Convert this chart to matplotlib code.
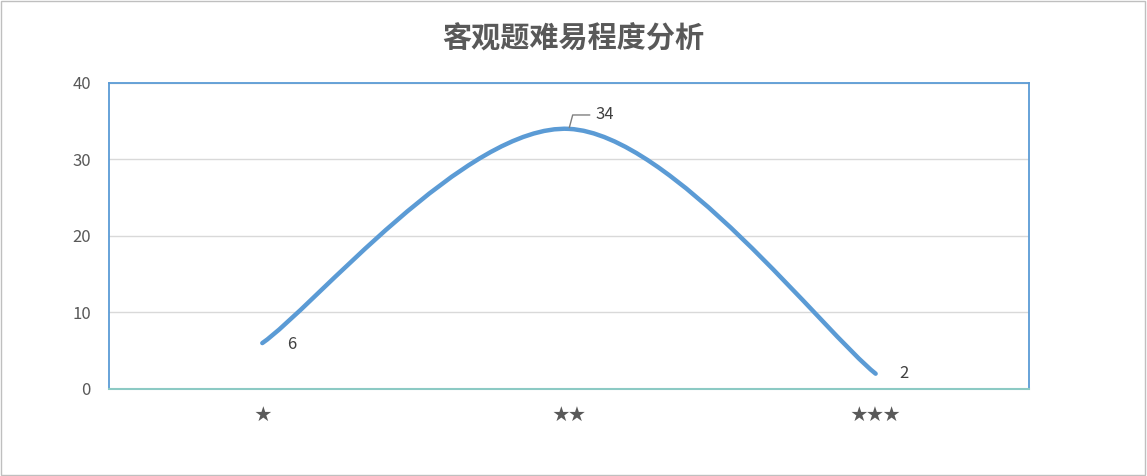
import matplotlib
matplotlib.use("Agg")

import matplotlib.pyplot as plt
from matplotlib.path import Path
from matplotlib.patches import PathPatch, Rectangle

plt.rcParams["font.family"] = ["Noto Sans CJK SC", "DejaVu Sans"]

title = "客观题难易程度分析"
categories = ["★", "★★", "★★★"]
values = [6, 34, 2]
y_ticks = [0, 10, 20, 30, 40]

line_color = "#5b9bd5"
text_color = "#595959"

fig = plt.figure(figsize=(11.47, 4.76), dpi=100)
ax = fig.add_axes([0.0950, 0.1828, 0.8021, 0.6429])

# smoothed line (Excel style cubic bezier through the points)
x = list(range(len(values)))
pts = list(zip(x, values))
verts = [pts[0]]
codes = [Path.MOVETO]
n = len(pts)
for i in range(n - 1):
    p_prev = pts[i - 1] if i > 0 else pts[i]
    p0 = pts[i]
    p1 = pts[i + 1]
    p_next = pts[i + 2] if i + 2 < n else pts[i + 1]
    c1 = (p0[0] + (p1[0] - p_prev[0]) / 6, p0[1] + (p1[1] - p_prev[1]) / 6)
    c2 = (p1[0] - (p_next[0] - p0[0]) / 6, p1[1] - (p_next[1] - p0[1]) / 6)
    verts += [c1, c2, p1]
    codes += [Path.CURVE4] * 3
ax.add_patch(PathPatch(Path(verts, codes), facecolor="none", edgecolor=line_color,
                       lw=3.2, capstyle="round", zorder=3))

ax.set_xlim(-0.5, len(values) - 0.5)
ax.set_ylim(0, 40)
ax.set_yticks(y_ticks)
ax.set_xticks(x)
ax.set_xticklabels(categories)
ax.grid(True, axis="y", color="#d9d9d9", lw=1)
ax.set_axisbelow(True)
ax.tick_params(axis="both", length=0, colors=text_color, labelsize=12)
ax.tick_params(axis="x", pad=13, labelsize=12)
ax.tick_params(axis="y", pad=13)

for side in ["left", "top", "right"]:
    ax.spines[side].set_color(line_color)
    ax.spines[side].set_linewidth(1.3)
ax.spines["bottom"].set_color("#8ccac4")
ax.spines["bottom"].set_linewidth(1.5)

# data labels
ax.annotate(str(values[0]), (x[0], values[0]), xytext=(18, -1), textcoords="offset points",
            ha="left", va="center", fontsize=12, color="#404040")
ax.annotate(str(values[2]), (x[2], values[2]), xytext=(17, 0), textcoords="offset points",
            ha="left", va="center", fontsize=12, color="#404040")
ax.annotate(str(values[1]), (x[1], values[1]), xytext=(19, 10), textcoords="offset points",
            ha="left", va="center", fontsize=12, color="#404040",
            arrowprops=dict(arrowstyle="-", color="#7f7f7f", lw=1,
                            connectionstyle="angle,angleA=0,angleB=75,rad=0",
                            shrinkA=2, shrinkB=1))

fig.text(0.5, 0.92, title, ha="center", va="center", fontsize=21, fontweight="bold",
         color=text_color)

fig.patches.append(Rectangle((0.001, 0.002), 0.997, 0.995, transform=fig.transFigure,
                             fill=False, edgecolor="#bfbfbf", lw=1))

fig.savefig("out.png", dpi=100)
plt.close(fig)
